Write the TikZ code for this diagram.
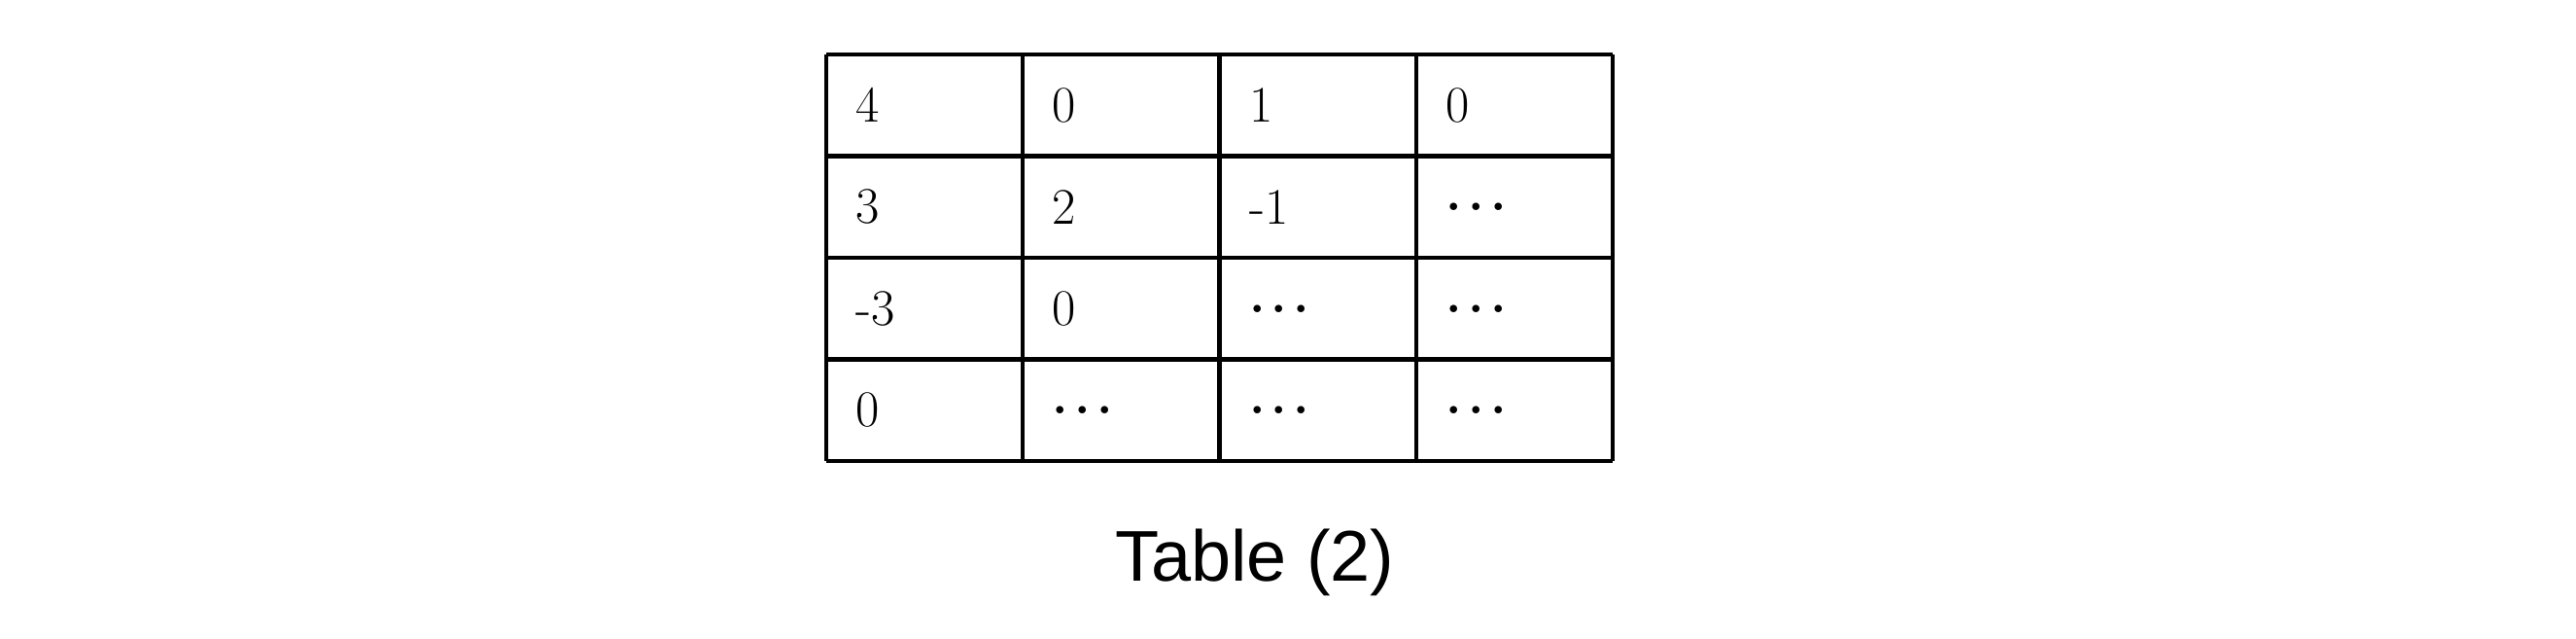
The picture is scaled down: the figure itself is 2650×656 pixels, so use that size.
\documentclass[tikz,border=0pt]{standalone}
\usepackage{fontspec}
\newfontfamily\capfont{Liberation Sans}
\tikzset{cell/.style={anchor=west, font=\fontsize{15}{18}\selectfont, inner sep=0pt}}
\newcommand{\celldots}{\textbf{.\hspace{0.12em}.\hspace{0.12em}.}}
\begin{document}
\begin{tikzpicture}[x=0.01cm, y=0.01cm]
            \useasboundingbox (0,0) rectangle (2650,656);
            \begin{scope}[shift={(850,182)}]
                \draw[black, line width=1.2pt] (0,0) grid[xstep=202.25, ystep=104.5] (809,418);
            \end{scope}
            \foreach \txt [count=\i from 0] in {4,0,1,0,3,2,-1,\celldots,-3,0,\celldots,\celldots,0,\celldots,\celldots,\celldots}{
                \pgfmathtruncatemacro{\c}{mod(\i,4)}
                \pgfmathtruncatemacro{\r}{div(\i,4)}
                \node[cell] (c\r\c) at ({880+202.25*\c}, {547.75-104.5*\r}) {\txt};
            }
            \node[font=\capfont\fontsize{21}{24}\selectfont] (caption) at (1291,78) {Table (2)};
        \end{tikzpicture}
\end{document}
